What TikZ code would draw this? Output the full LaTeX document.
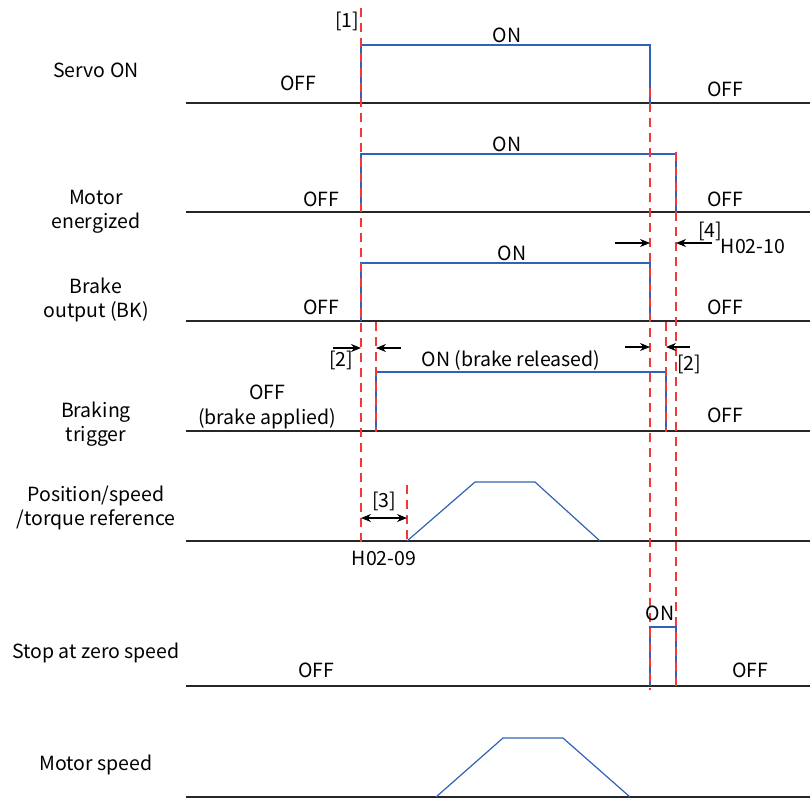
\documentclass[tikz,border=0pt]{standalone}
\usepackage{fontspec}
\setmainfont{Noto Sans CJK SC}
\usetikzlibrary{arrows.meta}
\definecolor{sigblue}{HTML}{2F62B8}
\definecolor{guide}{HTML}{F03A3A}
\tikzset{
  base/.style={line width=1.3pt,black!85},
  sig/.style={line width=1.2pt,sigblue},
  guideline/.style={line width=1.3pt,guide,dash pattern=on 9pt off 6pt},
  lbl/.style={font=\fontsize{19.5}{24.5}\selectfont,align=center,inner sep=0pt,yshift=-2pt},
  dim/.style={line width=1.1pt,-{Stealth[length=10pt,width=8pt]}},
}
\begin{document}
\begin{tikzpicture}[x=1pt,y=-1pt]
\useasboundingbox (0,0) rectangle (810,801);
% baselines
\foreach \n/\y in {b1/103,b2/212,b3/321,b4/431,b5/541,b6/686,b7/797}{
  \coordinate (\n L) at (186,\y); \coordinate (\n R) at (810,\y);
  \draw[base] (\n L) -- (\n R);
}
% signals
\draw[sig] (361,103) -- (361,45) -- (650,45) -- (650,103);
\draw[sig] (361,212) -- (361,154) -- (676,154) -- (676,212);
\draw[sig] (361,321) -- (361,263) -- (650,263) -- (650,321);
\draw[sig] (376,431) -- (376,372) -- (666,372) -- (666,431);
\draw[sig] (407,541) -- (475,482) -- (535,482) -- (600,541);
\draw[sig] (650,686) -- (650,627) -- (676,627) -- (676,686);
\draw[sig] (436,797) -- (503,738) -- (563,738) -- (630,797);
% guides
\coordinate (g1t) at (361,8);   \coordinate (g1b) at (361,545);
\coordinate (g2t) at (650,88);  \coordinate (g2b) at (650,690);
\coordinate (g3t) at (676,152); \coordinate (g3b) at (676,690);
\coordinate (g4t) at (376,322); \coordinate (g4b) at (376,432);
\coordinate (g5t) at (666,322); \coordinate (g5b) at (666,432);
\coordinate (g6t) at (407,485); \coordinate (g6b) at (407,541);
\foreach \g in {g1,g2,g3,g4,g5,g6}{\draw[guideline] (\g t) -- (\g b);}
% dimension arrows
\coordinate (a4l) at (615,243); \coordinate (a4le) at (650,243);
\coordinate (a4r) at (712,243); \coordinate (a4re) at (676,243);
\draw[dim] (a4l) -- (a4le); \draw[dim] (a4r) -- (a4re);
\coordinate (a2l) at (333,348); \coordinate (a2le) at (361,348);
\coordinate (a2r) at (401,348); \coordinate (a2re) at (376,348);
\draw[dim] (a2l) -- (a2le); \draw[dim] (a2r) -- (a2re);
\coordinate (a2bl) at (625,347); \coordinate (a2ble) at (650,347);
\coordinate (a2br) at (690,347); \coordinate (a2bre) at (666,347);
\draw[dim] (a2bl) -- (a2ble); \draw[dim] (a2br) -- (a2bre);
\coordinate (a3l) at (361,518); \coordinate (a3r) at (407,518);
\draw[dim,{Stealth[length=10pt,width=8pt]}-{Stealth[length=10pt,width=8pt]}] (a3l) -- (a3r);
% left labels
\node[lbl] (t1) at (96,68) {Servo ON};
\node[lbl] (t2) at (96,210) {Motor\\energized};
\node[lbl] (t3) at (96,298) {Brake\\output (BK)};
\node[lbl] (t4) at (96,422) {Braking\\trigger};
\node[lbl] (t5) at (96,506) {Position/speed\\/torque reference};
\node[lbl] (t6) at (96,651) {Stop at zero speed};
\node[lbl] (t7) at (96,763) {Motor speed};
% state labels
\node[lbl] (s1a) at (298,81) {OFF};
\node[lbl] (s1b) at (507,33) {ON};
\node[lbl] (s1c) at (725,87) {OFF};
\node[lbl] (s2a) at (321,197) {OFF};
\node[lbl] (s2b) at (507,142) {ON};
\node[lbl] (s2c) at (725,197) {OFF};
\node[lbl] (s3a) at (321,305) {OFF};
\node[lbl] (s3b) at (512,251) {ON};
\node[lbl] (s3c) at (725,305) {OFF};
\node[lbl] (s4a) at (267,405) {OFF\\(brake applied)};
\node[lbl] (s4b) at (511,358) {ON (brake released)};
\node[lbl] (s4c) at (725,413) {OFF};
\node[lbl] (s6a) at (316,668) {OFF};
\node[lbl] (s6b) at (660,611) {ON};
\node[lbl] (s6c) at (750,668) {OFF};
% markers
\node[lbl] (m1) at (347,19) {[1]};
\node[lbl] (m2a) at (341,358) {[2]};
\node[lbl] (m2b) at (689,362) {[2]};
\node[lbl] (m3) at (384,499) {[3]};
\node[lbl] (m3b) at (384,556) {H02-09};
\node[lbl] (m4) at (710,229) {[4]};
\node[lbl] (m4b) at (753,244) {H02-10};
\end{tikzpicture}
\end{document}
